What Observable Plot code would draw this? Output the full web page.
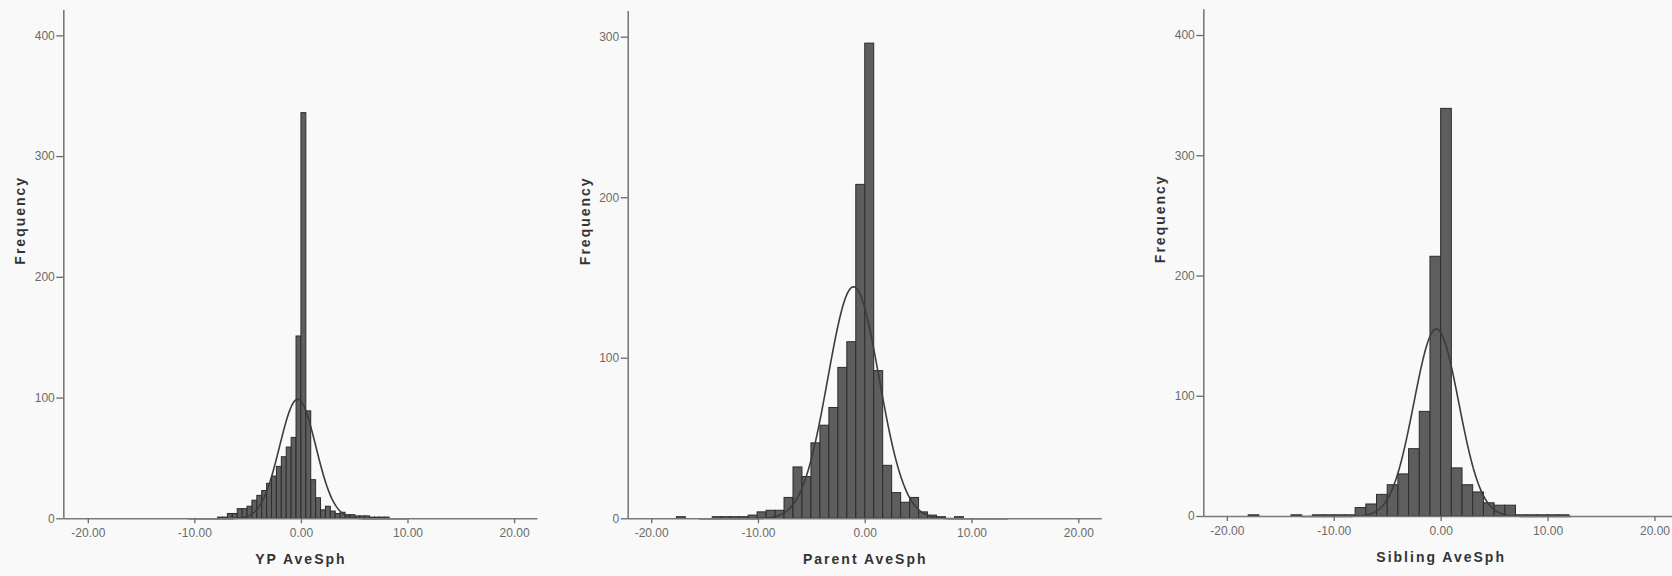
<!DOCTYPE html>
<html><head><meta charset="utf-8">
<script src="https://cdn.jsdelivr.net/npm/d3@7"></script>
<script src="https://cdn.jsdelivr.net/npm/@observablehq/plot@0.6"></script>
<style>
html,body{margin:0;padding:0;background:#f9f9f9;overflow:hidden;width:1672px;height:576px;}
#wrap{position:relative;width:1672px;height:576px;overflow:hidden;}
.panel{position:absolute;top:0;}
.panel svg{overflow:visible;max-width:none !important;}
g[font-weight="bold"] text{letter-spacing:2px}
</style></head><body><div id="wrap"></div>
<script>
// ---- data ----
const xTickValues = [-20, -10, 0, 10, 20];

// YP AveSph
const ypBinWidth = 0.46;
const ypStarts = [-7.82,-7.36,-6.9,-6.44,-5.98,-5.52,-5.06,-4.6,-4.14,-3.68,-3.22,-2.76,-2.3,-1.84,-1.38,-0.92,-0.46,0,0.46,0.92,1.38,1.84,2.3,2.76,3.22,3.68,4.14,4.6,5.06,5.52,5.98,6.44,6.9,7.36,7.82];
const ypCounts = [1,1,4,4,8,8,10,15,19,23,29,35,43,51,59,67,151,336,89,32,17,7,10,6,4,5,3,3,2,2,2,1,1,1,1];
const ypMean = -0.35, ypSd = 1.7, ypN = 917;
const ypYTicks = [0, 100, 200, 300, 400];

// Parent AveSph
const parentBinWidth = 0.84;
const parentStarts = [-17.64,-14.28,-13.44,-12.6,-11.76,-10.92,-10.08,-9.24,-8.4,-7.56,-6.72,-5.88,-5.04,-4.2,-3.36,-2.52,-1.68,-0.84,0,0.84,1.68,2.52,3.36,4.2,5.04,5.88,6.72,8.4];
const parentCounts = [1,1,1,1,1,2,4,5,5,13,32,26,47,58,69,94,110,208,296,92,33,16,10,13,4,2,1,1];
const parentMean = -1.1, parentSd = 2.4, parentN = 1035;
const parentYTicks = [0, 100, 200, 300];

// Sibling AveSph
const siblingBinWidth = 1;
const siblingStarts = [-18,-14,-12,-11,-10,-9,-8,-7,-6,-5,-4,-3,-2,-1,0,1,2,3,4,5,6,7,8,9,10,11];
const siblingCounts = [1,1,1,1,1,1,7,10,18,26,35,56,87,216,339,40,26,20,11,9,9,1,1,1,1,1];
const siblingMean = -0.45, siblingSd = 2.1, siblingN = 821;
const siblingYTicks = [0, 100, 200, 300, 400];

// ---- drawing ----
function normalCurve(mean, sd, n, w, lo, hi) {
  const pts = [];
  for (let x = lo; x <= hi + 1e-9; x += 0.05) {
    pts.push({x, y: n * w / (sd * Math.sqrt(2 * Math.PI)) * Math.exp(-((x - mean) ** 2) / (2 * sd * sd))});
  }
  return pts;
}

function panel(o) {
  const bins = o.starts.map((s, i) => ({x1: s, x2: s + o.w, count: o.counts[i]}));
  const curve = normalCurve(o.mean, o.sd, o.n, o.w, o.mean - 6 * o.sd, o.mean + 6 * o.sd);
  const chart = Plot.plot({
    width: o.svgWidth, height: 576,
    marginLeft: o.ml, marginRight: o.mr, marginTop: o.mt, marginBottom: o.mb,
    style: {background: "transparent", fontFamily: "'Liberation Sans', Arial, sans-serif", color: "#6a6a6a", overflow: "visible", maxWidth: "none"},
    x: {domain: o.xDomain},
    y: {domain: [0, o.yMax]},
    marks: [
      Plot.rectY(bins, {x1: "x1", x2: "x2", y: "count", inset: 0, fill: "#5e5e5e", stroke: "#2c2c2c", strokeWidth: 1}),
      Plot.line(curve, {x: "x", y: "y", stroke: "#3c3c3c", strokeWidth: 1.6}),
      Plot.ruleY([0], {stroke: "#7a7a7a", strokeWidth: 1.6}),
      Plot.ruleX([o.xDomain[0]], {y1: 0, y2: o.yMax, stroke: "#7a7a7a", strokeWidth: 1.6}),
      Plot.axisX({ticks: xTickValues, tickFormat: d => d.toFixed(2), tickSize: 5, tickPadding: 5, fontSize: 12, label: null, strokeWidth: 1.3}),
      Plot.axisY({ticks: o.yTicks, tickFormat: d => String(d), tickSize: 7, tickPadding: 2, fontSize: 12, label: null, strokeWidth: 1.3}),
      Plot.text([o.title], {frameAnchor: "bottom", dy: 45, fontWeight: "bold", fontSize: 14, fill: "#333"}),
      Plot.text(["Frequency"], {frameAnchor: "left", rotate: -90, dx: -43, fontWeight: "bold", fontSize: 14, fill: "#333"})
    ]
  });
  const div = document.createElement("div");
  div.className = "panel";
  div.style.left = o.left + "px";
  div.style.width = o.svgWidth + "px";
  div.appendChild(chart);
  document.getElementById("wrap").appendChild(div);
}

panel({starts: ypStarts, counts: ypCounts, w: ypBinWidth, mean: ypMean, sd: ypSd, n: ypN,
  yMax: 421, yTicks: ypYTicks, xDomain: [-22.3, 22.2], title: "YP AveSph",
  left: 0, svgWidth: 560, ml: 63.3, mr: 22.5, mt: 10, mb: 57.7});
panel({starts: parentStarts, counts: parentCounts, w: parentBinWidth, mean: parentMean, sd: parentSd, n: parentN,
  yMax: 316, yTicks: parentYTicks, xDomain: [-22.2, 22.2], title: "Parent AveSph",
  left: 560, svgWidth: 560, ml: 67.7, mr: 18.2, mt: 11, mb: 57.7});
panel({starts: siblingStarts, counts: siblingCounts, w: siblingBinWidth, mean: siblingMean, sd: siblingSd, n: siblingN,
  yMax: 421.4, yTicks: siblingYTicks, xDomain: [-22.2, 22.2], title: "Sibling AveSph",
  left: 1120, svgWidth: 568, ml: 83.3, mr: 10, mt: 9.3, mb: 60});
</script></body></html>
